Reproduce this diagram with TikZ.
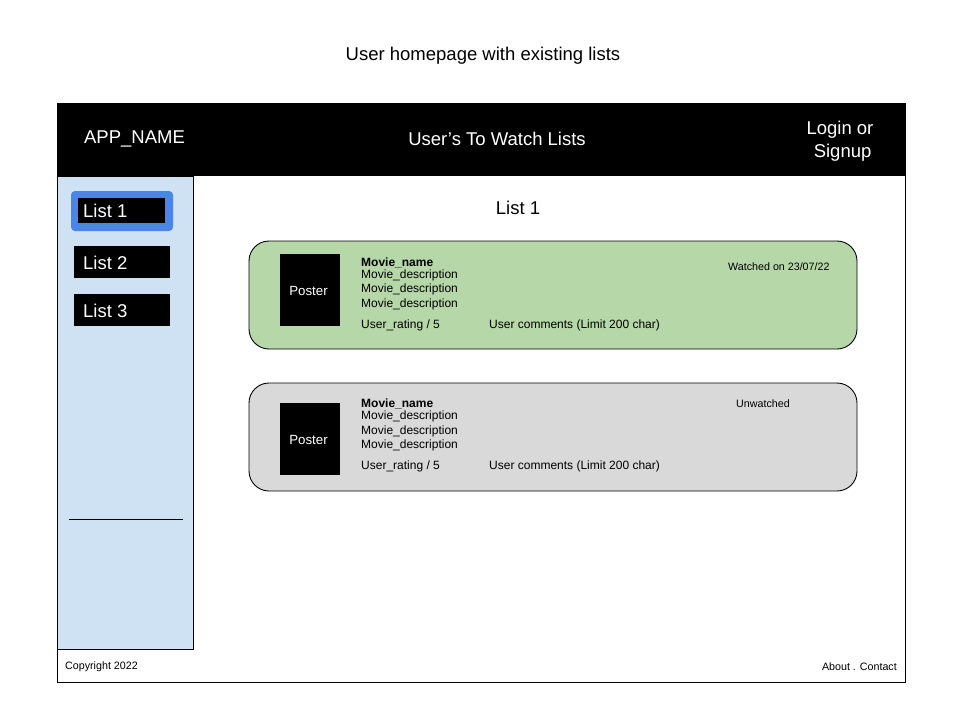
\documentclass[tikz,border=0pt]{standalone}
\usepackage{fontspec}
\setmainfont{Liberation Sans}
\newcommand\fsz[1]{\fontsize{#1}{#1}\selectfont}
\definecolor{sidebg}{HTML}{CFE2F3}
\definecolor{selblue}{HTML}{4A86E8}
\definecolor{cardgreen}{HTML}{B6D7A8}
\definecolor{cardgrey}{HTML}{D9D9D9}
\begin{document}
\begin{tikzpicture}[x=1pt,y=-1pt,
  big/.style={font=\fsz{18.5}, inner sep=0pt},
  small/.style={font=\fsz{12}, inner sep=0pt, anchor=west, yshift=-1.5pt},
  tiny/.style={font=\fsz{10.7}, inner sep=0pt, yshift=-1pt},
  card/.style={draw=black, line width=0.9pt, rounded corners=20pt}]
\useasboundingbox (0,0) rectangle (960,720);
% title
\node[big] (title) at (483,56) {User homepage with existing lists};
% outer frame
\draw[line width=0.9pt] (57,103) rectangle (905,682);
% header
\fill[black] (57,103) rectangle (905,176);
\node[big, text=white] (app) at (134.5,138.5) {APP\_NAME};
\node[big, text=white] (lists) at (497,138.5) {User’s To Watch Lists};
\node[font=\fontsize{18.5}{23}\selectfont, inner sep=0pt, text=white, align=center] (login) at (840,141.5) {Login or\\ \ Signup};
% sidebar
\draw[fill=sidebg, line width=0.9pt] (57,176) rectangle (193,649);
\fill[selblue, rounded corners=4pt] (71,191) rectangle (173,231);
\fill[black] (78,198) rectangle (165,223);
\node[big, text=white, anchor=west] (l1) at (83,211) {List 1};
\fill[black] (74,246) rectangle (170,278);
\node[big, text=white, anchor=west] (l2) at (83,263) {List 2};
\fill[black] (74,294) rectangle (170,326);
\node[big, text=white, anchor=west] (l3) at (83,311) {List 3};
\draw[line width=0.8pt] (69,519) -- (183,519);
% main heading
\node[big] (head) at (518,208) {List 1};
% card 1
\draw[card, fill=cardgreen] (249,241) rectangle (857,349);
\fill[black] (280,254) rectangle (340,326);
\node[font=\fsz{13.3}, text=white, inner sep=0pt] (p1) at (308.5,291) {Poster};
\node[small, font=\fsz{12}\bfseries] (n1) at (361,261.5) {Movie\_name};
\node[small] (d1a) at (361,273.5) {Movie\_description};
\node[small] (d1b) at (361,288) {Movie\_description};
\node[small] (d1c) at (361,302.5) {Movie\_description};
\node[small] (r1) at (361,323.5) {User\_rating / 5};
\node[small] (c1) at (489,323.5) {User comments (Limit 200 char)};
\node[tiny, anchor=west] (w1) at (728,265.5) {Watched on 23/07/22};
% card 2
\draw[card, fill=cardgrey] (249,383) rectangle (857,491);
\fill[black] (280,403) rectangle (340,475);
\node[font=\fsz{13.3}, text=white, inner sep=0pt] (p2) at (308.5,440) {Poster};
\node[small, font=\fsz{12}\bfseries] (n2) at (361,402.5) {Movie\_name};
\node[small] (d2a) at (361,415) {Movie\_description};
\node[small] (d2b) at (361,429.5) {Movie\_description};
\node[small] (d2c) at (361,444) {Movie\_description};
\node[small] (r2) at (361,465) {User\_rating / 5};
\node[small] (c2) at (489,465) {User comments (Limit 200 char)};
\node[tiny, anchor=west] (w2) at (736,402.5) {Unwatched};
% footer
\node[tiny, anchor=west] (copy) at (65,665.5) {Copyright 2022};
\node[tiny, anchor=east] (about) at (897,665.5) {About . Contact};
\end{tikzpicture}
\end{document}
